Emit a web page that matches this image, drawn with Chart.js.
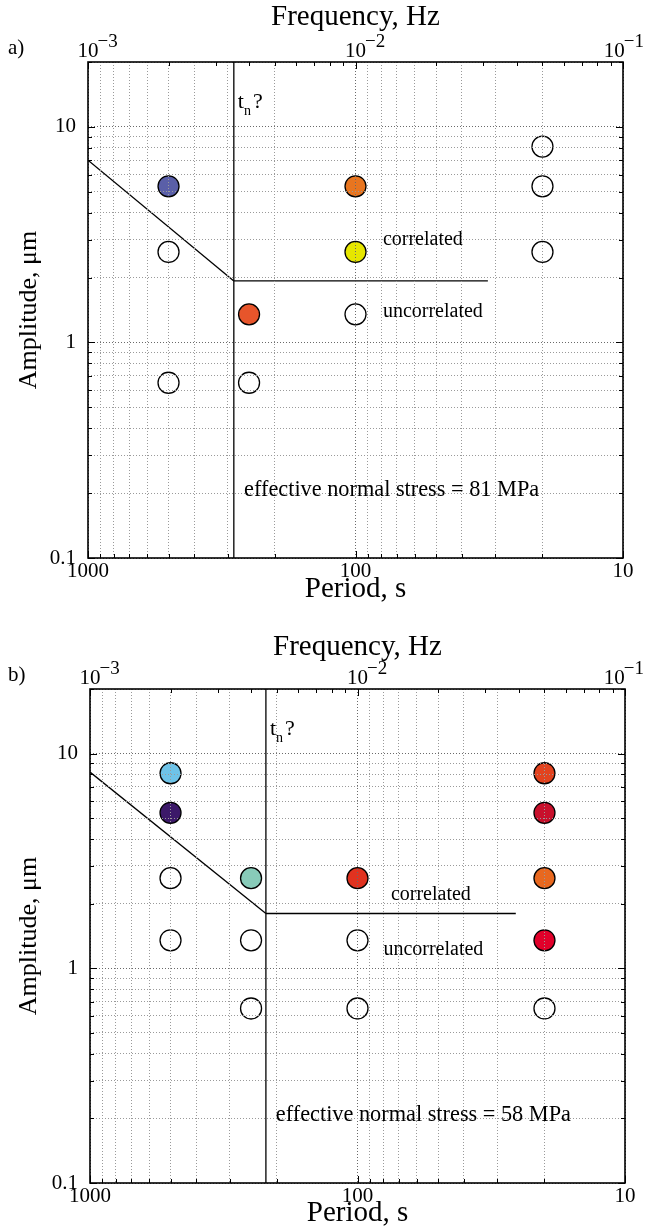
<!DOCTYPE html>
<html><head><meta charset="utf-8">
<script src="https://cdn.jsdelivr.net/npm/chart.js@4/dist/chart.umd.min.js"></script>
<style>
html,body{margin:0;padding:0;background:#fff;}
#wrap{position:relative;width:647px;height:1231px;overflow:hidden;}
canvas{position:absolute;left:0;display:block;}
</style></head><body>
<div id="wrap">
<canvas id="ca" width="647" height="615" style="top:0"></canvas>
<canvas id="cb" width="647" height="616" style="top:615px"></canvas>
</div>
<script>
// ---- axis tick values ----
const periodTicks = [10, 20, 30, 40, 50, 60, 70, 80, 90, 100, 200, 300, 400, 500, 600, 700, 800, 900, 1000];
const periodLabels = ['1000', '100', '10'];
const freqTicks = [0.001, 0.002, 0.003, 0.004, 0.005, 0.006, 0.007, 0.008, 0.009, 0.01, 0.02, 0.03, 0.04, 0.05, 0.06, 0.07, 0.08, 0.09, 0.1];
const freqDecades = [0.001, 0.01, 0.1];
const freqExponents = ['\u22123', '\u22122', '\u22121'];
const ampTicks = [0.1, 0.2, 0.3, 0.4, 0.5, 0.6, 0.7, 0.8, 0.9, 1, 2, 3, 4, 5, 6, 7, 8, 9, 10, 20];
const ampLabels = ['0.1', '1', '10'];

// ---- panel a data ----
const aLimitPeriod = [1000, 285, 32];
const aLimitAmp = [7.0, 1.93, 1.93];
const aFilledPeriod = [500, 250, 100, 100];
const aFilledAmp = [5.3, 1.35, 5.3, 2.63];
const aFilledColor = ['#5A5FA8', '#E7552B', '#E8751F', '#E6E600'];
const aOpenPeriod = [500, 500, 250, 100, 20, 20, 20];
const aOpenAmp = [2.63, 0.65, 0.65, 1.35, 8.1, 5.3, 2.63];
const aStress = 'effective normal stress = 81 MPa';

// ---- panel b data ----
const bLimitPeriod = [1000, 220, 25.6];
const bLimitAmp = [8.2, 1.8, 1.8];
const bFilledPeriod = [500, 500, 250, 100, 20, 20, 20, 20];
const bFilledAmp = [8.1, 5.3, 2.63, 2.63, 8.1, 5.3, 2.63, 1.35];
const bFilledColor = ['#6EC3E8', '#3C1969', '#88CBB9', '#E1321F', '#E2431F', '#C8102C', '#E8681F', '#E1002A'];
const bOpenPeriod = [500, 500, 250, 250, 100, 100, 20];
const bOpenAmp = [2.63, 1.35, 1.35, 0.65, 1.35, 0.65, 0.65];
const bStress = 'effective normal stress = 58 MPa';

const FONT = "'Liberation Serif', 'Times New Roman', serif";

function pts(px, py) { return px.map((p, i) => ({x: p, y: py[i]})); }

function makePanel(id, P) {
  const lp = P.limitPeriod, la = P.limitAmp;
  const datasets = [
    {data: [{x: lp[0], y: la[0]}, {x: lp[1], y: la[1]}]},
    {data: [{x: lp[1], y: la[1]}, {x: lp[2], y: la[2]}]},
    {data: [{x: lp[1], y: ampTicks[0]}, {x: lp[1], y: ampTicks[ampTicks.length - 1]}]}
  ].map(d => Object.assign(d, {showLine: true, pointRadius: 0, borderColor: '#000', borderWidth: 1.3, fill: false}));
  datasets.push({data: pts(P.filledPeriod, P.filledAmp), pointRadius: 10.5, pointHoverRadius: 10.5,
    pointBackgroundColor: P.filledColor, pointBorderColor: '#000', pointBorderWidth: 1.3, showLine: false});
  datasets.push({data: pts(P.openPeriod, P.openAmp), pointRadius: 10.5, pointHoverRadius: 10.5,
    pointBackgroundColor: 'rgba(0,0,0,0)', pointBorderColor: '#000', pointBorderWidth: 1.3, showLine: false});

  const gridColor = (labels) => (c) => (c.tick && labels.includes(String(c.tick.value))) ? '#6a6a6a' : '#9a9a9a';

  const deco = {
    id: 'deco',
    afterDraw(chart) {
      const {ctx, chartArea: a, scales: {x, y, xf}} = chart;
      ctx.save();
      ctx.strokeStyle = '#000';
      ctx.lineWidth = 1;
      const seg = (x1, y1, x2, y2) => { ctx.beginPath(); ctx.moveTo(x1, y1); ctx.lineTo(x2, y2); ctx.stroke(); };
      periodTicks.forEach(v => {
        const p = Math.round(x.getPixelForValue(v)) + 0.5;
        const L = periodLabels.includes(String(v)) ? 7 : 4;
        seg(p, a.bottom, p, a.bottom - L);
      });
      freqTicks.forEach(v => {
        const p = Math.round(xf.getPixelForValue(v)) + 0.5;
        const L = freqDecades.includes(v) ? 7 : 4;
        seg(p, a.top, p, a.top + L);
      });
      ampTicks.forEach(v => {
        const p = Math.round(y.getPixelForValue(v)) + 0.5;
        const L = ampLabels.includes(String(v)) ? 7 : 4;
        seg(a.left, p, a.left + L, p);
        seg(a.right, p, a.right - L, p);
      });
      ctx.lineWidth = 1.6;
      ctx.strokeRect(a.left, a.top, a.right - a.left, a.bottom - a.top);

      ctx.fillStyle = '#000';
      // frequency tick labels (10^n)
      const W = chart.width;
      freqDecades.forEach((f, i) => {
        ctx.font = '21px ' + FONT;
        const w = ctx.measureText('10').width;
        ctx.font = '19px ' + FONT;
        const we = ctx.measureText(freqExponents[i]).width;
        const p = Math.min(xf.getPixelForValue(f), W - 2 - we - w / 2);
        ctx.font = '21px ' + FONT;
        ctx.textAlign = 'center';
        ctx.textBaseline = 'alphabetic';
        ctx.fillText('10', p, a.top - 5);
        ctx.textAlign = 'left';
        ctx.font = '19px ' + FONT;
        ctx.fillText(freqExponents[i], p + w / 2 - 1, a.top - 15);
      });
      // panel letter
      ctx.font = '21px ' + FONT;
      ctx.textAlign = 'left';
      ctx.fillText(P.letter, P.letterX, a.top - 8);
      // t_n ?
      const tx = x.getPixelForValue(lp[1]) + 4;
      const ty = y.getPixelForValue(P.tnAmp);
      ctx.font = '22px ' + FONT;
      ctx.fillText('t', tx, ty);
      const wt = ctx.measureText('t').width;
      ctx.font = '14px ' + FONT;
      ctx.fillText('n', tx + wt, ty + 7);
      const wn = ctx.measureText('n').width;
      ctx.font = '22px ' + FONT;
      ctx.fillText('?', tx + wt + wn + 2, ty);
      // region labels
      ctx.font = '20px ' + FONT;
      ctx.textBaseline = 'middle';
      ctx.fillText('correlated', x.getPixelForValue(P.corrAt[0]), y.getPixelForValue(P.corrAt[1]));
      ctx.fillText('uncorrelated', x.getPixelForValue(P.uncorrAt[0]), y.getPixelForValue(P.uncorrAt[1]));
      ctx.font = '22.3px ' + FONT;
      ctx.fillText(P.stress, x.getPixelForValue(P.stressAt[0]), y.getPixelForValue(P.stressAt[1]));
      ctx.restore();
    }
  };

  return new Chart(document.getElementById(id), {
    type: 'scatter',
    data: {datasets},
    plugins: [deco],
    options: {
      responsive: false,
      animation: false,
      devicePixelRatio: 1,
      layout: {padding: {left: 0, right: P.padRight, top: 0, bottom: 0}},
      plugins: {legend: {display: false}, tooltip: {enabled: false}},
      scales: {
        x: {
          type: 'logarithmic', position: 'bottom', reverse: true,
          min: periodTicks[0], max: periodTicks[periodTicks.length - 1],
          afterBuildTicks: s => { s.ticks = periodTicks.map(v => ({value: v})); },
          afterFit: s => { s.height = P.bottomH; },
          ticks: {autoSkip: false, maxRotation: 0, padding: 1, color: '#000', font: {family: FONT, size: 21},
            callback: v => periodLabels.includes(String(v)) ? String(v) : ''},
          grid: {drawTicks: false, lineWidth: 1, z: 1, color: gridColor(periodLabels)},
          border: {display: false, dash: [1, 2]},
          title: {display: true, text: 'Period, s', color: '#000', font: {family: FONT, size: 29},
            padding: {top: 0, bottom: P.bottomTitlePad}}
        },
        xf: {
          type: 'logarithmic', position: 'top',
          min: freqTicks[0], max: freqTicks[freqTicks.length - 1],
          afterBuildTicks: s => { s.ticks = freqTicks.map(v => ({value: v})); },
          afterFit: s => { s.height = P.topH; },
          ticks: {display: false},
          grid: {display: false},
          border: {display: false},
          title: {display: true, text: 'Frequency, Hz', color: '#000', font: {family: FONT, size: 29},
            padding: {top: P.topTitlePad, bottom: 0}}
        },
        y: {
          type: 'logarithmic', position: 'left',
          min: ampTicks[0], max: ampTicks[ampTicks.length - 1],
          afterBuildTicks: s => { s.ticks = ampTicks.map(v => ({value: v})); },
          afterFit: s => { s.width = P.leftW; },
          ticks: {autoSkip: false, padding: 12, color: '#000', font: {family: FONT, size: 21},
            callback: v => ampLabels.includes(String(v)) ? String(v) : ''},
          grid: {drawTicks: false, lineWidth: 1, z: 1, color: gridColor(ampLabels)},
          border: {display: false, dash: [1, 2]},
          title: {display: true, text: 'Amplitude, \u03bcm', color: '#000', font: {family: FONT, size: 26},
            padding: {top: 14, bottom: 0}}
        }
      }
    }
  });
}

makePanel('ca', {
  letter: 'a)', letterX: 8,
  limitPeriod: aLimitPeriod, limitAmp: aLimitAmp,
  filledPeriod: aFilledPeriod, filledAmp: aFilledAmp, filledColor: aFilledColor,
  openPeriod: aOpenPeriod, openAmp: aOpenAmp,
  stress: aStress, stressAt: [261, 0.207],
  corrAt: [79, 2.99], uncorrAt: [79, 1.385], tnAmp: 12.2,
  leftW: 88, padRight: 24, topH: 62, bottomH: 57, topTitlePad: 0, bottomTitlePad: 8
});
makePanel('cb', {
  letter: 'b)', letterX: 8,
  limitPeriod: bLimitPeriod, limitAmp: bLimitAmp,
  filledPeriod: bFilledPeriod, filledAmp: bFilledAmp, filledColor: bFilledColor,
  openPeriod: bOpenPeriod, openAmp: bOpenAmp,
  stress: bStress, stressAt: [202, 0.2075],
  corrAt: [75, 2.2], uncorrAt: [80, 1.22], tnAmp: 12.2,
  leftW: 90, padRight: 22, topH: 74, bottomH: 48, topTitlePad: 15, bottomTitlePad: 0
});
</script>
</body></html>
